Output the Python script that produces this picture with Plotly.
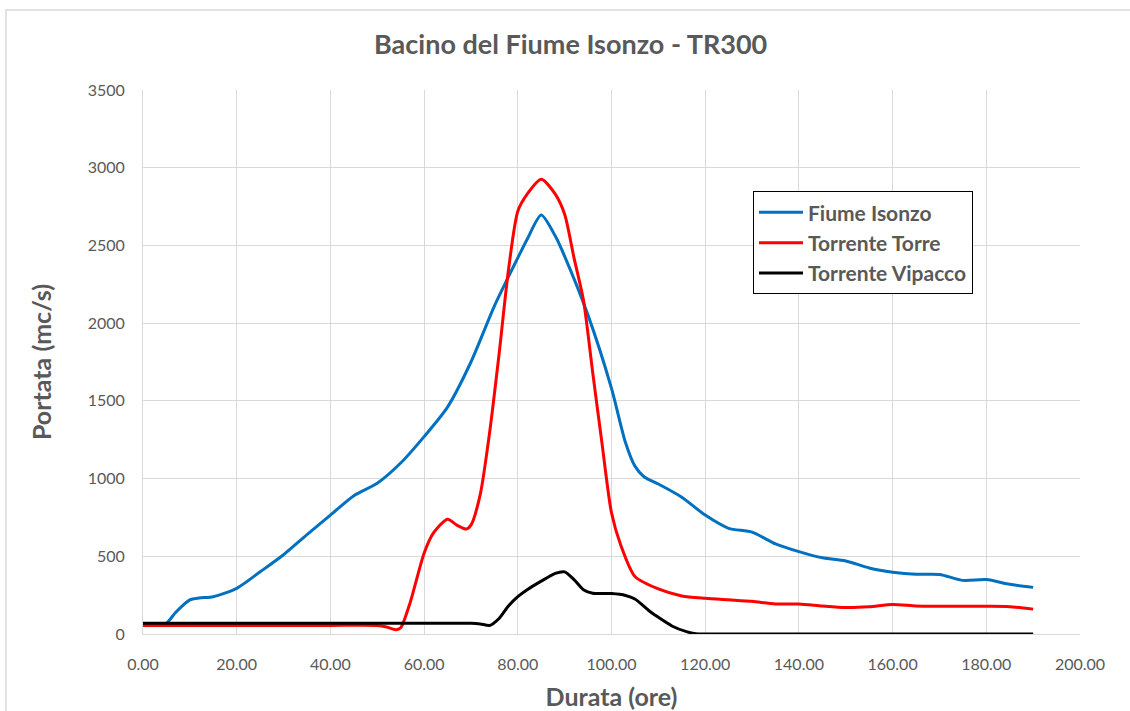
import plotly.graph_objects as go

# Durata (ore)
t_isonzo = [0, 3, 5, 7, 10, 12, 15, 20, 25, 30, 35, 40, 45, 50, 55, 60, 65, 70, 75, 80,
            82, 85, 88, 90, 95, 100, 103, 105, 107, 110, 115, 120, 125, 130, 135, 140,
            145, 150, 155, 160, 165, 170, 175, 180, 185, 190]
q_isonzo = [55, 55, 69, 140, 220, 232, 240, 294, 400, 510, 640, 765, 890, 970, 1100, 1270,
            1460, 1750, 2110, 2420, 2540, 2696, 2560, 2430, 2050, 1580, 1230, 1080, 1010,
            965, 880, 765, 680, 655, 580, 530, 490, 470, 425, 398, 384, 383, 345, 350, 320, 300]

t_torre = [0, 10, 20, 30, 40, 50, 52, 54, 55, 57, 60, 62, 65, 67, 69, 70, 72, 74, 76, 78,
           80, 82, 85, 88, 90, 92, 94, 96, 98, 100, 102, 105, 110, 115, 120, 125, 130, 135,
           140, 145, 150, 155, 160, 165, 170, 175, 180, 185, 190]
q_torre = [55, 55, 55, 55, 55, 55, 45, 28, 40, 200, 520, 650, 738, 700, 675, 700, 900, 1300,
           1800, 2340, 2720, 2830, 2926, 2830, 2700, 2420, 2150, 1680, 1220, 780, 570, 370,
           290, 245, 230, 220, 210, 193, 193, 180, 170, 175, 190, 180, 178, 178, 178, 176, 160]

t_vipacco = [0, 10, 20, 30, 40, 50, 60, 70, 72, 74, 76, 78, 80, 82, 85, 88, 90, 92, 94, 96,
             100, 103, 105, 108, 110, 113, 116, 118, 120, 130, 140, 150, 160, 170, 180, 190]
q_vipacco = [69, 69, 69, 69, 69, 69, 69, 69, 65, 55, 100, 180, 240, 285, 340, 390, 400, 350,
             285, 262, 260, 248, 225, 150, 107, 50, 15, 2, 0, 0, 0, 0, 0, 0, 0, 0]

x_ticks = [0, 20, 40, 60, 80, 100, 120, 140, 160, 180, 200]
x_labels = ["0.00", "20.00", "40.00", "60.00", "80.00", "100.00", "120.00", "140.00",
            "160.00", "180.00", "200.00"]
y_ticks = [0, 500, 1000, 1500, 2000, 2500, 3000, 3500]

FONT = "Lato, Open Sans, sans-serif"
TXT = "#595959"
GRID = "#d9d9d9"

fig = go.Figure()
series = [
    ("Fiume Isonzo", t_isonzo, q_isonzo, "#0070C0"),
    ("Torrente Torre", t_torre, q_torre, "#FF0000"),
    ("Torrente Vipacco", t_vipacco, q_vipacco, "#000000"),
]
for i, (name, tx, qy, col) in enumerate(series):
    fig.add_trace(go.Scatter(
        x=tx, y=qy, name=f"<b>{name}</b>", mode="lines", legendgroup=f"g{i}",
        line=dict(color=col, width=3, shape="spline", smoothing=0.7),
    ))

fig.update_layout(
    width=1130, height=711,
    margin=dict(l=143, r=50, t=90, b=77),
    paper_bgcolor="white", plot_bgcolor="white",
    font=dict(family=FONT, color=TXT, size=16),
    title=dict(text="<b>Bacino del Fiume Isonzo - TR300</b>", x=0.505, xanchor="center",
               y=0.937, yanchor="middle", font=dict(size=27, color=TXT, family=FONT)),
    showlegend=True,
    legend=dict(x=0.651, y=0.814, xanchor="left", yanchor="top",
                bgcolor="white", bordercolor="#000000", borderwidth=1,
                font=dict(size=21, color=TXT, family=FONT), tracegroupgap=0,
                itemwidth=44),
    xaxis=dict(range=[0, 200], tickvals=x_ticks, ticktext=x_labels, automargin=False,
               showgrid=True, gridcolor=GRID, gridwidth=1,
               showline=True, linecolor=GRID, linewidth=1, zeroline=False,
               ticks="", tickfont=dict(size=16, color=TXT), ticklabelstandoff=16,
               title=dict(text="<b>Durata (ore)</b>", font=dict(size=25, color=TXT), standoff=16)),
    yaxis=dict(range=[0, 3500], tickvals=y_ticks, automargin=False,
               showgrid=True, gridcolor=GRID, gridwidth=1,
               showline=True, linecolor=GRID, linewidth=1, zeroline=False,
               ticks="", tickfont=dict(size=16, color=TXT), ticklabelstandoff=14,
               title=dict(text="<b>Portata (mc/s)</b>", font=dict(size=25, color=TXT), standoff=28)),
    shapes=[dict(type="rect", xref="paper", yref="paper",
                 x0=(6 - 143) / 937, x1=(1140 - 143) / 937,
                 y0=(634 - 730) / 544, y1=(634 - 10) / 544,
                 line=dict(color=GRID, width=1.5), fillcolor="rgba(0,0,0,0)", layer="below")],
)

fig.write_html("out.html")
